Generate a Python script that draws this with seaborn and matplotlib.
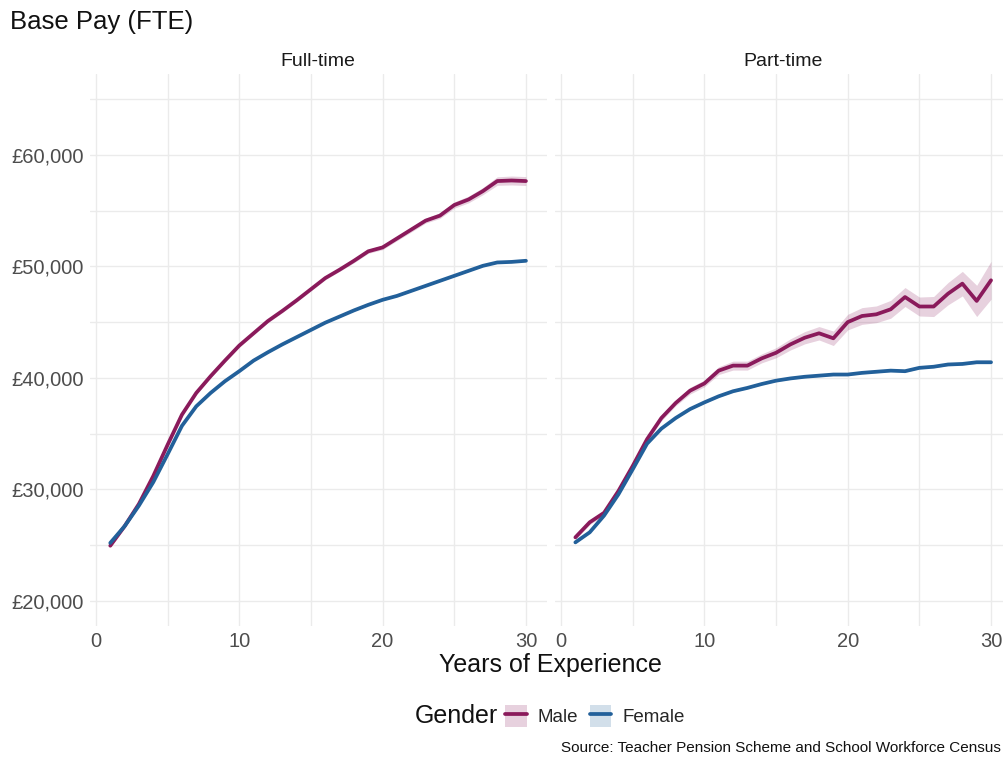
import numpy as np
import pandas as pd
import matplotlib
matplotlib.use("Agg")
import matplotlib.pyplot as plt
import seaborn as sns
from matplotlib.patches import Patch
from matplotlib.lines import Line2D
from matplotlib.ticker import FuncFormatter, MultipleLocator

# ---------------- data ----------------
years = list(range(1, 31))

ft_male = [24950, 26700, 28700, 31200, 34000, 36700, 38650, 40150, 41550, 42900,
           44000, 45100, 46000, 46950, 47950, 48950, 49700, 50500, 51350, 51700,
           52500, 53300, 54100, 54550, 55500, 56000, 56750, 57650, 57700, 57650]
ft_female = [25200, 26700, 28550, 30650, 33150, 35700, 37450, 38650, 39700, 40600,
             41550, 42300, 43000, 43650, 44300, 44950, 45500, 46050, 46550, 47000,
             47350, 47800, 48250, 48700, 49150, 49600, 50050, 50350, 50400, 50500]
pt_male = [25700, 27050, 27900, 29850, 32100, 34500, 36400, 37750, 38850, 39500,
           40650, 41100, 41100, 41750, 42250, 43000, 43600, 44000, 43550, 45000,
           45550, 45700, 46150, 47250, 46400, 46400, 47550, 48450, 46900, 48750]
pt_female = [25250, 26150, 27650, 29550, 31800, 34100, 35450, 36400, 37200, 37800,
             38350, 38800, 39100, 39450, 39750, 39950, 40100, 40200, 40300, 40300,
             40450, 40550, 40650, 40600, 40900, 41000, 41200, 41250, 41400, 41400]

# half-width of confidence ribbons
ft_male_ci = [150, 150, 150, 150, 150, 150, 150, 150, 150, 150,
              150, 150, 150, 150, 150, 150, 150, 180, 180, 200,
              200, 220, 220, 250, 280, 300, 320, 380, 400, 400]
ft_female_ci = [60] * 30
pt_male_ci = [200, 200, 200, 200, 200, 250, 250, 250, 300, 300,
              350, 400, 400, 400, 450, 500, 550, 600, 650, 700,
              750, 750, 800, 850, 850, 900, 1000, 1100, 1400, 1700]
pt_female_ci = [80, 80, 80, 80, 80, 80, 80, 80, 80, 80,
                80, 80, 80, 80, 80, 80, 80, 80, 80, 80,
                90, 90, 90, 90, 90, 90, 100, 100, 100, 100]

panels = ["Full-time", "Part-time"]
genders = ["Male", "Female"]
y_ticks = [20000, 30000, 40000, 50000, 60000]
x_ticks = [0, 10, 20, 30]

title = "Base Pay (FTE)"
x_label = "Years of Experience"
legend_title = "Gender"
source = "Source: Teacher Pension Scheme and School Workforce Census"

# ---------------- style ----------------
sns.set_theme(style="white")
plt.rcParams["font.family"] = ["Liberation Sans", "DejaVu Sans"]

colors = {"Male": "#8a1a5b", "Female": "#22609a"}
grid_c = "#ebebeb"
tick_c = "#4d4d4d"

rows = []
series = {
    ("Full-time", "Male"): (ft_male, ft_male_ci),
    ("Full-time", "Female"): (ft_female, ft_female_ci),
    ("Part-time", "Male"): (pt_male, pt_male_ci),
    ("Part-time", "Female"): (pt_female, pt_female_ci),
}
for (p, g), (vals, ci) in series.items():
    for x, v, c in zip(years, vals, ci):
        rows.append({"panel": p, "Gender": g, "Years": x, "Pay": v,
                     "lo": v - c, "hi": v + c})
df = pd.DataFrame(rows)

W, H = 1004, 758
fig = plt.figure(figsize=(W / 100, H / 100), dpi=100)

ax_w = (546.7 - 89.5) / W
ax_h = (626 - 74) / H
ax_b = 1 - 626 / H
lefts = [89.5 / W, 554.6 / W]

for i, p in enumerate(panels):
    ax = fig.add_axes([lefts[i], ax_b, ax_w, ax_h])
    sub = df[df.panel == p]
    for g in genders:
        s = sub[sub.Gender == g]
        ax.fill_between(s.Years, s.lo, s.hi, color=colors[g], alpha=0.2, lw=0)
    sns.lineplot(data=sub, x="Years", y="Pay", hue="Gender", hue_order=genders,
                 palette=colors, lw=2.7, ax=ax, legend=False, errorbar=None)
    ax.set_xlim(-0.45, 31.45)
    ax.set_ylim(17750, 67250)
    ax.set_xticks(x_ticks)
    ax.xaxis.set_minor_locator(MultipleLocator(5))
    ax.set_yticks(y_ticks)
    ax.yaxis.set_minor_locator(MultipleLocator(5000))
    ax.grid(True, which="both", color=grid_c, lw=1.0)
    ax.set_axisbelow(True)
    for sp in ax.spines.values():
        sp.set_visible(False)
    ax.tick_params(axis="both", which="both", length=0, labelsize=14.5,
                   labelcolor=tick_c, pad=4)
    ax.set_xlabel("")
    ax.set_ylabel("")
    if i == 0:
        ax.yaxis.set_major_formatter(FuncFormatter(lambda v, _: f"£{int(v):,}"))
    else:
        ax.set_yticklabels([])
    ax.set_title(p, fontsize=14, color="#1a1a1a", pad=6)

fig.text(10 / W, 1 - 22 / H, title, fontsize=18.5, ha="left", va="center",
         color="#111111")
fig.text(550 / W, 1 - 665 / H, x_label, fontsize=18, ha="center", va="center",
         color="#111111")

fig.text(498 / W, 1 - 716 / H, legend_title, fontsize=18, ha="right",
         va="center", color="#111111")
handles = [(Patch(facecolor=colors[g], alpha=0.2, lw=0),
            Line2D([], [], color=colors[g], lw=2.7)) for g in genders]
fig.legend(handles, genders, loc="center left",
           bbox_to_anchor=(505 / W, 1 - 716 / H), ncol=2, frameon=False,
           fontsize=13.5, handlelength=1.15, handleheight=1.35,
           handletextpad=0.6, columnspacing=0.6, borderpad=0,
           borderaxespad=0)

fig.text(1001 / W, 1 - 748 / H, source, fontsize=11, ha="right", va="center",
         color="#111111")

fig.savefig("out.png", dpi=100)
